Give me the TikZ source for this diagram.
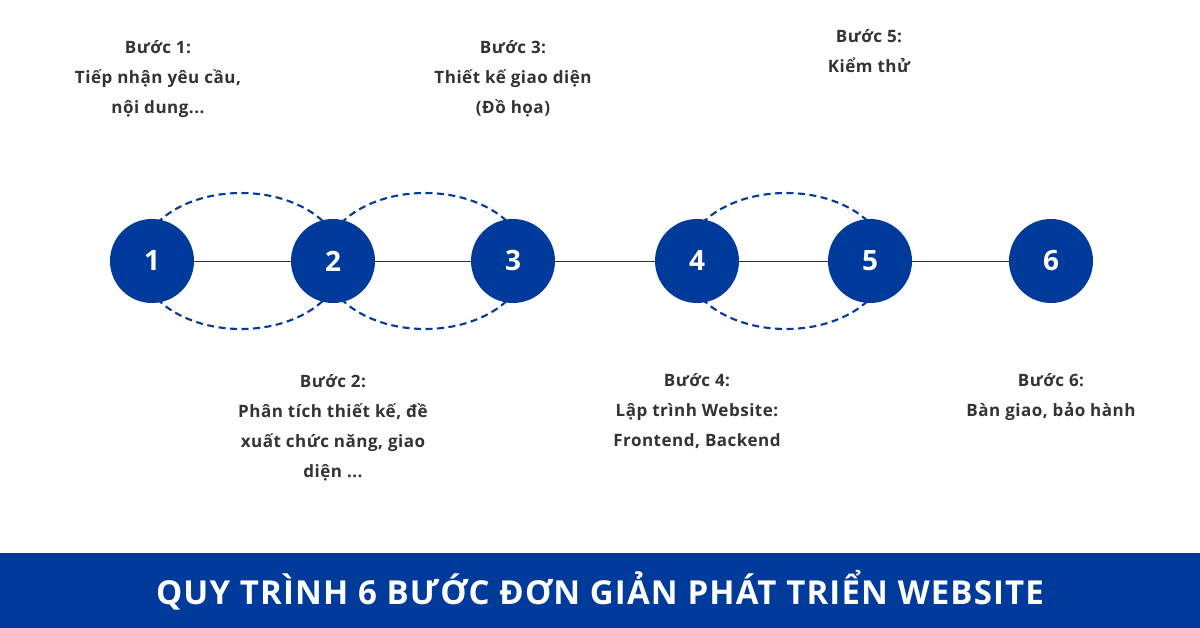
\documentclass[tikz,border=0pt]{standalone}
\usepackage{fontspec}
\setmainfont{Open Sans}
\definecolor{mblue}{HTML}{003A9B}
\definecolor{mtext}{HTML}{333333}
\begin{document}
\begin{tikzpicture}[x=1pt,y=-1pt,
  stepcircle/.style={circle,fill=mblue,minimum size=84pt,inner sep=0pt,text=white,font=\fontsize{28}{28}\selectfont\bfseries},
  dashring/.style={draw=mblue,dash pattern=on 7pt off 4.5pt,line width=2.1pt},
  steplabel/.style={align=center,text=mtext,font=\fontsize{17}{30}\selectfont\bfseries\addfontfeature{LetterSpace=3}},
  link/.style={draw=black!80,line width=0.9pt}]
\useasboundingbox (0,0) rectangle (1200,628);
\fill[white] (0,0) rectangle (1200,628);
% dashed ellipses
\draw[dashring] (241,261) ellipse [x radius=101, y radius=68];
\draw[dashring] (425,261) ellipse [x radius=101, y radius=68];
\draw[dashring] (786,261) ellipse [x radius=101, y radius=68];
% connecting line
\coordinate (L) at (152,261);
\coordinate (R) at (1051,261);
\draw[link] (L) -- (R);
% circles
\node[stepcircle] (c1) at (152,261) {1};
\node[stepcircle] (c2) at (333,261) {2};
\node[stepcircle] (c3) at (513,261) {3};
\node[stepcircle] (c4) at (697,261) {4};
\node[stepcircle] (c5) at (870,261) {5};
\node[stepcircle] (c6) at (1051,261) {6};
% labels
\node[steplabel,anchor=north] (t1) at (158,37) {Bước 1:\\Tiếp nhận yêu cầu,\\nội dung...};
\node[steplabel,anchor=north] (t3) at (513,37) {Bước 3:\\Thiết kế giao diện\\(Đồ họa)};
\node[steplabel,anchor=north] (t5) at (869,26) {Bước 5:\\Kiểm thử};
\node[steplabel,anchor=north] (t2) at (333,371) {Bước 2:\\Phân tích thiết kế, đề\\xuất chức năng, giao\\diện ...};
\node[steplabel,anchor=north] (t4) at (697,370) {Bước 4:\\Lập trình Website:\\Frontend, Backend};
\node[steplabel,anchor=north] (t6) at (1051,370) {Bước 6:\\Bàn giao, bảo hành};
% banner
\fill[mblue] (0,553) rectangle (1200,628);
\node[text=white,font=\fontsize{33}{33}\selectfont\bfseries\addfontfeature{LetterSpace=3.5}] (title) at (600,590) {QUY TRÌNH 6 BƯỚC ĐƠN GIẢN PHÁT TRIỂN WEBSITE};
\end{tikzpicture}
\end{document}
